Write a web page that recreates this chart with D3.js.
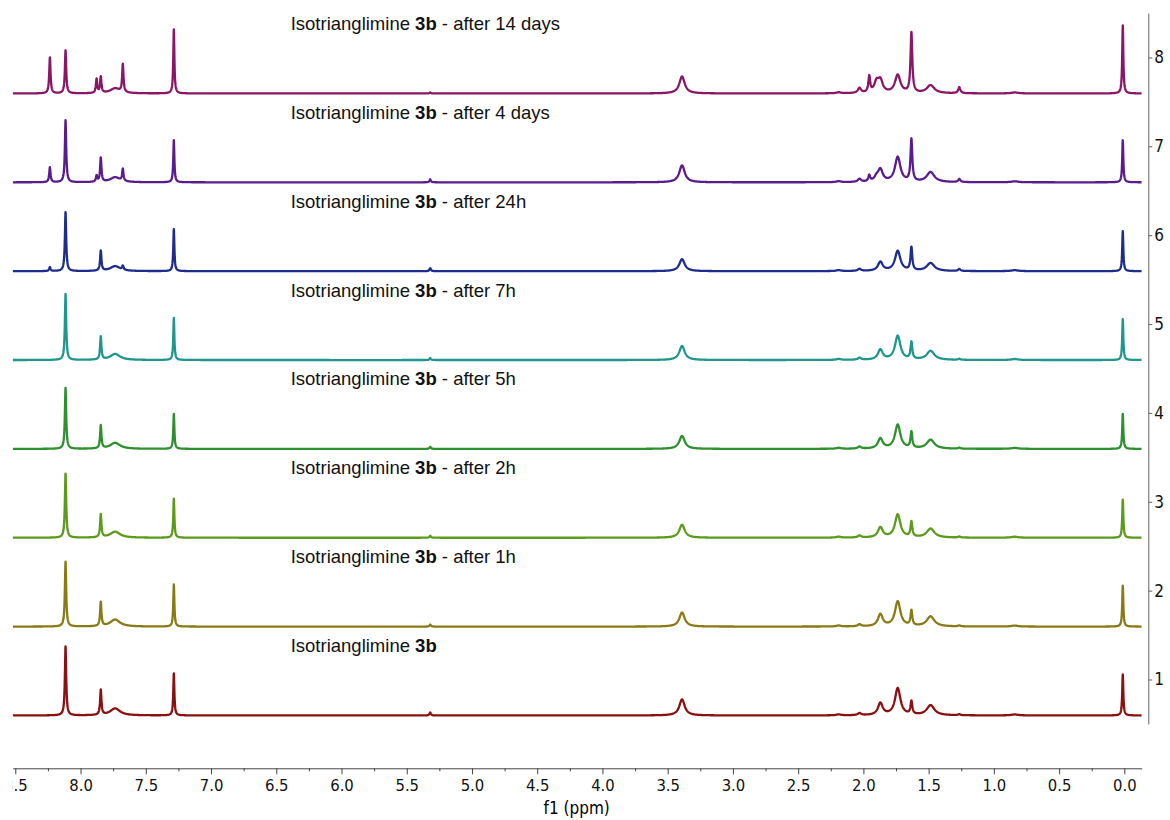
<!DOCTYPE html>
<html>
<head>
<meta charset="utf-8">
<script src="https://cdn.jsdelivr.net/npm/d3@7"></script>
<style>
  html, body { margin: 0; padding: 0; background: #fff; }
  svg { display: block; }
  .ax text { font-family: "DejaVu Sans Condensed", "DejaVu Sans", sans-serif; font-stretch: condensed; font-size: 16.5px; fill: #111; }
  .lbl { font-family: "Liberation Sans", Arial, sans-serif; font-size: 18.5px; fill: #111; }
</style>
</head>
<body>
<svg id="chart" width="1170" height="820"></svg>
<script>
// ---------------- DATA ----------------
// peak centres (ppm) and half widths (ppm) shared by all spectra
const peakPpm   = [8.235, 8.115, 7.877, 7.845, 7.735, 7.676, 7.285, 5.32, 3.39, 2.19, 2.03, 1.955, 1.90, 1.87, 1.737, 1.632, 1.485, 1.265, 0.84, 0.012];
const peakWidth = [0.006, 0.006, 0.006, 0.006, 0.045, 0.006, 0.005, 0.006, 0.025, 0.02, 0.015, 0.008, 0.02, 0.022, 0.025, 0.008, 0.035, 0.01, 0.03, 0.005];

// peak heights (y-axis units) for each spectrum, bottom (1) to top (8)
const heights1 = [0, 0.776, 0, 0.281, 0.079, 0, 0.473, 0.034, 0.18, 0.011, 0.023, 0, 0, 0.135, 0.304, 0.146, 0.113, 0.011, 0.011, 0.461];
const heights2 = [0, 0.731, 0, 0.270, 0.079, 0, 0.473, 0.023, 0.158, 0.011, 0.023, 0, 0, 0.135, 0.281, 0.169, 0.113, 0.011, 0.011, 0.461];
const heights3 = [0, 0.720, 0, 0.259, 0.068, 0, 0.439, 0.023, 0.146, 0.011, 0.023, 0, 0, 0.113, 0.259, 0.169, 0.101, 0.011, 0.011, 0.428];
const heights4 = [0, 0.686, 0, 0.259, 0.068, 0, 0.394, 0.023, 0.146, 0.011, 0.023, 0, 0, 0.113, 0.270, 0.180, 0.101, 0.011, 0.011, 0.394];
const heights5 = [0, 0.743, 0, 0.259, 0.068, 0, 0.473, 0.023, 0.158, 0.011, 0.023, 0, 0, 0.113, 0.270, 0.191, 0.101, 0.011, 0.011, 0.461];
const heights6 = [0.045, 0.664, 0, 0.225, 0.056, 0.045, 0.473, 0.034, 0.135, 0.011, 0.023, 0, 0, 0.101, 0.225, 0.259, 0.090, 0.023, 0.011, 0.450];
const heights7 = [0.169, 0.698, 0.068, 0.270, 0.056, 0.135, 0.473, 0.034, 0.191, 0.011, 0.034, 0.068, 0.045, 0.135, 0.281, 0.473, 0.113, 0.034, 0.011, 0.473];
const heights8 = [0.405, 0.484, 0.158, 0.180, 0.056, 0.315, 0.720, 0.011, 0.191, 0.011, 0.056, 0.180, 0.113, 0.135, 0.203, 0.675, 0.090, 0.068, 0.011, 0.765];
const spectraHeights = [heights1, heights2, heights3, heights4, heights5, heights6, heights7, heights8];

// vertical offset of each spectrum's baseline (y-axis units)
const spectrumOffsets = [0.595, 1.595, 2.595, 3.595, 4.595, 5.595, 6.595, 7.595];

// label suffixes (after "Isotrianglimine 3b")
const labelSuffix = ["", " - after 1h", " - after 2h", " - after 5h", " - after 7h", " - after 24h", " - after 4 days", " - after 14 days"];

// axis ticks
const xMajorTicks = [8.5, 8.0, 7.5, 7.0, 6.5, 6.0, 5.5, 5.0, 4.5, 4.0, 3.5, 3.0, 2.5, 2.0, 1.5, 1.0, 0.5, 0.0];
const xMinorTicks = [8.25, 7.75, 7.25, 6.75, 6.25, 5.75, 5.25, 4.75, 4.25, 3.75, 3.25, 2.75, 2.25, 1.75, 1.25, 0.75, 0.25];
const yTicks = [1, 2, 3, 4, 5, 6, 7, 8];
const xDomain = [8.52, -0.133];
const yDomain = [0.5, 8.5];

// ---------------- STYLE ----------------
const colors = ["#8a1111", "#8a7a16", "#5c9a1c", "#2e902e", "#1f978c", "#1e2c8c", "#5a1c8c", "#8a1668"];

// ---------------- DRAW ----------------
const svg = d3.select("#chart");
const x = d3.scaleLinear().domain(xDomain).range([12.7, 1141.7]);
const y = d3.scaleLinear().domain(yDomain).range([723.9, 13.05]);

svg.append("defs").append("clipPath").attr("id", "clip")
  .append("rect").attr("x", 12.7).attr("y", 0).attr("width", 1160).attr("height", 820);

const g = svg.append("g").attr("clip-path", "url(#clip)");

// sample grid
const grid = [];
for (let p = xDomain[0]; p >= xDomain[1]; p -= 0.002) grid.push(p);
peakPpm.forEach(c => { grid.push(c); grid.push(c + 0.001); grid.push(c - 0.001); });
grid.sort((a, b) => b - a);

function intensity(p, hs) {
  let s = 0;
  for (let i = 0; i < peakPpm.length; i++) {
    if (!hs[i]) continue;
    const d = (p - peakPpm[i]) / peakWidth[i];
    s += hs[i] / (1 + d * d);
  }
  return s;
}

const line = d3.line().x(d => x(d[0])).y(d => y(d[1]));

spectraHeights.forEach((hs, k) => {
  const pts = grid.map(p => [p, spectrumOffsets[k] + intensity(p, hs)]);
  g.append("path").datum(pts)
    .attr("d", line)
    .attr("fill", "none")
    .attr("stroke", colors[k])
    .attr("stroke-width", 2.3)
    .attr("stroke-linejoin", "round");

  const t = g.append("text").attr("class", "lbl")
    .attr("x", 290.7)
    .attr("y", y(spectrumOffsets[k]) - 70 + 6.5);
  t.append("tspan").text("Isotrianglimine ");
  t.append("tspan").attr("font-weight", "bold").text("3b");
  t.append("tspan").text(labelSuffix[k]);
});

// bottom axis
const axG = g.append("g").attr("class", "ax").attr("transform", "translate(0,768.3)");
axG.call(d3.axisBottom(x).tickValues(xMajorTicks).tickFormat(d3.format(".1f")).tickSize(6).tickSizeOuter(0).tickPadding(5));
axG.append("g").call(d3.axisBottom(x).tickValues(xMinorTicks).tickFormat("").tickSize(3).tickSizeOuter(0))
  .select(".domain").remove();
axG.selectAll("path, line").attr("stroke", "#444");
axG.selectAll("text").attr("fill", "#111");

g.append("text").attr("class", "ax")
  .attr("x", 576.7).attr("y", 814)
  .attr("text-anchor", "middle")
  .style("font-family", "'DejaVu Sans Condensed', 'DejaVu Sans', sans-serif")
  .style("font-stretch", "condensed")
  .style("font-size", "17px")
  .text("f1 (ppm)");

// right axis
const ayG = svg.append("g").attr("class", "ax").attr("transform", "translate(1148.3,0)");
ayG.call(d3.axisRight(y).tickValues(yTicks).tickFormat(d3.format("d")).tickSize(4).tickSizeOuter(0).tickPadding(2));
ayG.selectAll("path, line").attr("stroke", "#666");
ayG.selectAll("text").attr("fill", "#111").style("font-size", "17px");
</script>
</body>
</html>
